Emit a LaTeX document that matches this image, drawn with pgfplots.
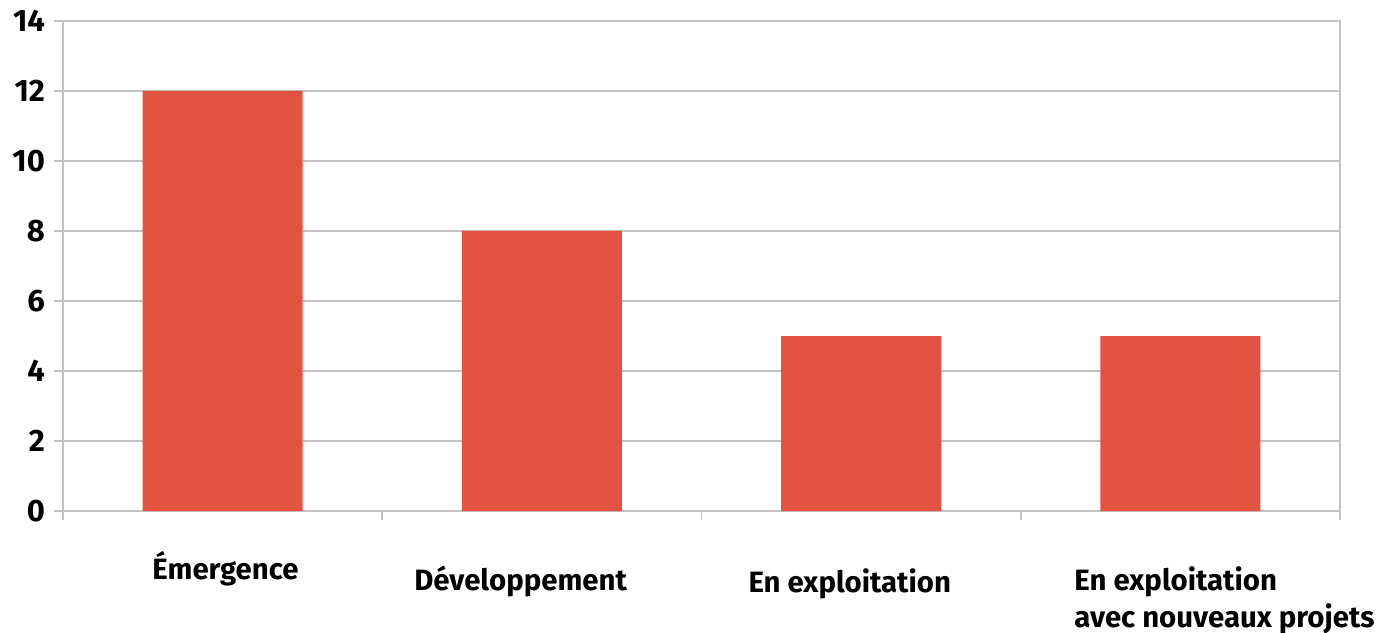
\documentclass[border=0pt]{standalone}
\usepackage{pgfplots}
\pgfplotsset{compat=1.18}
\usepackage{fontspec}
\setmainfont{Fira Sans}
\definecolor{barred}{HTML}{E35342}
\definecolor{gridgray}{HTML}{C2C2C2}
\begin{document}
\begin{tikzpicture}
\useasboundingbox (-31.5pt,-60.5pt) rectangle (659pt,255.5pt);
\begin{axis}[
  at={(0,0)}, anchor=south west,
  scale only axis, width=638.5pt, height=245pt,
  xmin=-0.5, xmax=3.5, ymin=0, ymax=14,
  ytick={0,2,...,14},
  xtick={-0.5,0.5,1.5,2.5,3.5}, xticklabels={},
  xtick pos=lower, ytick pos=left,
  tick align=outside, major tick length=4.5pt,
  tick style={gridgray, line width=0.8pt},
  ymajorgrids, grid style={gridgray, line width=0.8pt},
  axis line style={gridgray, line width=0.8pt},
  yticklabel style={font=\fontsize{15.5}{18}\selectfont\bfseries, xshift=-1pt},
  /pgf/number format/assume math mode=true,
  clip=false,
]
\addplot[ybar, bar width=80pt, fill=barred, draw=none] coordinates {(0,12) (1,8) (2,5) (3,5)};
\tikzset{lab/.style={anchor=base west, inner sep=0pt, font=\fontsize{14.7}{17}\selectfont\bfseries}}
\node[lab, yshift=-34pt] at (axis cs:-0.221,0) {Émergence};
\node[lab, yshift=-39.5pt] at (axis cs:0.599,0) {Développement};
\node[lab, yshift=-40.5pt] at (axis cs:1.646,0) {En exploitation};
\node[lab, yshift=-39.5pt] at (axis cs:2.667,0) {En exploitation};
\node[lab, yshift=-58pt] at (axis cs:2.667,0) {avec nouveaux projets};
\end{axis}
\end{tikzpicture}
\end{document}
